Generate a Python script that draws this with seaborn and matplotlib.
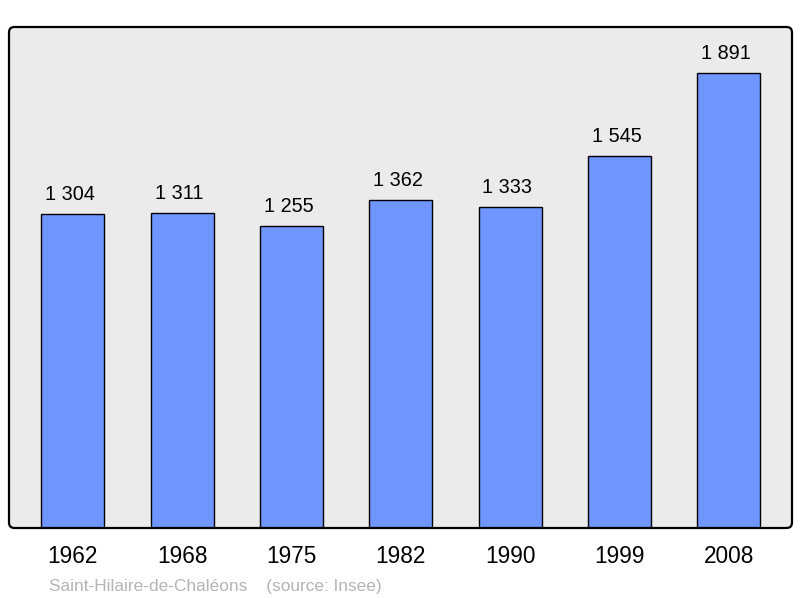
import matplotlib
matplotlib.use("Agg")
import matplotlib.pyplot as plt
from matplotlib.patches import FancyBboxPatch
import seaborn as sns
import pandas as pd

# Population data
years = ['1962', '1968', '1975', '1982', '1990', '1999', '2008']
population = [1304, 1311, 1255, 1362, 1333, 1545, 1891]
labels = ['1 304', '1 311', '1 255', '1 362', '1 333', '1 545', '1 891']

df = pd.DataFrame({'Year': years, 'Population': population})

sns.set_theme(style="white")
plt.rcParams['font.family'] = ['Liberation Sans', 'DejaVu Sans']

fig = plt.figure(figsize=(8, 5.98), dpi=100)
ax = fig.add_axes([9 / 800, 1 - 528 / 598, 783 / 800, 501 / 598])
ax.set_facecolor('#ebebeb')

sns.barplot(x='Year', y='Population', data=df, color='#6f96ff', width=0.576,
            edgecolor='black', linewidth=1.0, saturation=1, ax=ax)

# Value labels above bars
for i, (v, lab) in enumerate(zip(population, labels)):
    ax.annotate(lab, (i, v), xytext=(-2, 10), textcoords='offset points',
                ha='center', va='baseline', fontsize=14.3, color='black')

ax.set_xlim(-0.585, 6.58)
ax.set_ylim(0, 2082)
ax.set_yticks([])
ax.set_xlabel('')
ax.set_ylabel('')
ax.tick_params(axis='x', length=0, pad=12.5, labelsize=16.3, colors='black')

# rounded frame
for s in ax.spines.values():
    s.set_visible(False)
frame = FancyBboxPatch((0, 0), 1, 1, boxstyle="round,pad=0,rounding_size=0.007",
                       mutation_aspect=783 / 501, transform=ax.transAxes,
                       fill=False, edgecolor='black', linewidth=1.6,
                       clip_on=False, zorder=5)
ax.add_patch(frame)

fig.text(49 / 800, 1 - 591 / 598, 'Saint-Hilaire-de-Chaléons    (source: Insee)',
         fontsize=12.4, color='#b4b4b4', ha='left', va='baseline')

fig.savefig('out.png', dpi=100)
